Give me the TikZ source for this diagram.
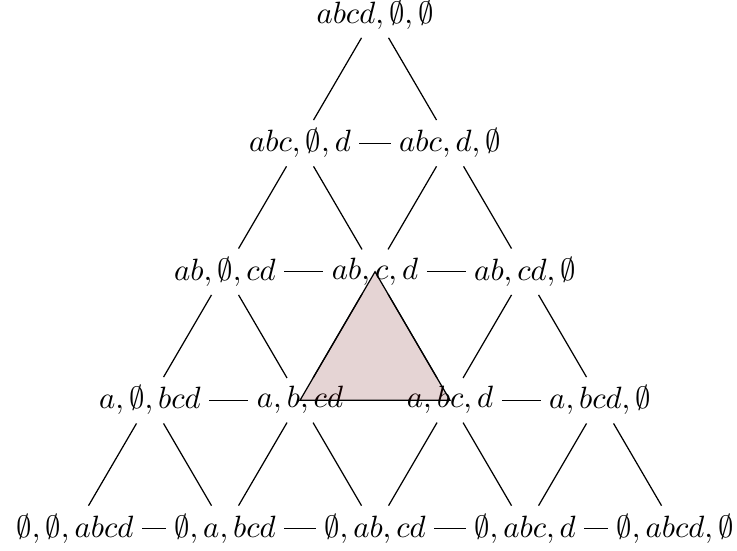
\documentclass[tikz,border=0pt]{standalone}
\usepackage{amsmath,amssymb}
\usepackage{tikz}

\tikzset{
  part/.style={inner sep=2.6pt},
  face/.style={draw=black,fill=red!40!black,fill opacity=0.17}
}

\begin{document}
\begin{tikzpicture}[x=1.712cm,y=1.467cm]
  \useasboundingbox (-0.5,-0.166) rectangle (4.413,4.114);
  % rows from the top, v<row><index>
  \node[part] (v00) at (2,4)   {$abcd,\emptyset,\emptyset$};
  \node[part] (v10) at (1.5,3) {$abc,\emptyset,d$};
  \node[part] (v11) at (2.5,3) {$abc,d,\emptyset$};
  \node[part] (v20) at (1,2)   {$ab,\emptyset,cd$};
  \node[part] (v21) at (2,2)   {$ab,c,d$};
  \node[part] (v22) at (3,2)   {$ab,cd,\emptyset$};
  \node[part] (v30) at (0.5,1) {$a,\emptyset,bcd$};
  \node[part] (v31) at (1.5,1) {$a,b,cd$};
  \node[part] (v32) at (2.5,1) {$a,bc,d$};
  \node[part] (v33) at (3.5,1) {$a,bcd,\emptyset$};
  \node[part] (v40) at (0,0)   {$\emptyset,\emptyset,abcd$};
  \node[part] (v41) at (1,0)   {$\emptyset,a,bcd$};
  \node[part] (v42) at (2,0)   {$\emptyset,ab,cd$};
  \node[part] (v43) at (3,0)   {$\emptyset,abc,d$};
  \node[part] (v44) at (4,0)   {$\emptyset,abcd,\emptyset$};
  % down to the next row
  \foreach \r in {0,...,3} {
    \pgfmathtruncatemacro\s{\r+1}
    \foreach \k in {0,...,\r} {
      \pgfmathtruncatemacro\l{\k+1}
      \draw (v\r\k) -- (v\s\k);
      \draw (v\r\k) -- (v\s\l);
    }
  }
  % along each row
  \foreach \r in {1,...,4}
    \foreach \k in {1,...,\r} {
      \pgfmathtruncatemacro\j{\k-1}
      \draw (v\r\j) -- (v\r\k);
    }
  \filldraw[face] (v21.center) -- (v31.center) -- (v32.center) -- cycle;
\end{tikzpicture}
\end{document}
